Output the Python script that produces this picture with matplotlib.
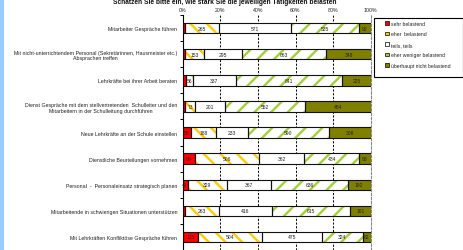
import matplotlib
matplotlib.use('Agg')
import matplotlib.pyplot as plt
import numpy as np
from matplotlib.patches import Rectangle, Patch

plt.rcParams['font.family'] = ['Liberation Sans', 'DejaVu Sans']
plt.rcParams['hatch.linewidth'] = 1.7

title = "Schätzen Sie bitte ein, wie stark Sie die jeweiligen Tätigkeiten belasten"
categories = [
    "Mitarbeiter Gespräche führen",
    "Mit nicht-unterrichtendem Personal (Sekretärinnen, Hausmeister etc.)\nAbsprachen treffen",
    "Lehrkräfte bei ihrer Arbeit beraten",
    "Dienst Gespräche mit dem stellvertretenden  Schulleiter und den\nMitarbeitern in der Schulleitung durchführen",
    "Neue Lehrkräfte an der Schule einstellen",
    "Dienstliche Beurteilungen vornehmen",
    "Personal  -  Personaleinsatz strategisch planen",
    "Mitarbeitende in schwierigen Situationen unterstützen",
    "Mit Lehrkräften Konfliktöse Gespräche führen",
]
sehr = [20, 18, 25, 15, 58, 99, 41, 21, 125]
eher = [265, 153, 56, 73, 188, 506, 329, 263, 504]
teils = [571, 295, 337, 201, 233, 362, 367, 416, 475]
weniger = [535, 663, 841, 552, 590, 434, 636, 615, 324]
nicht = [92, 348, 225, 454, 308, 93, 192, 161, 62]
series_names = ['sehr belastend', 'eher  belastend', 'teils, teils',
                'eher weniger belastend', 'überhaupt nicht belastend']
xticks = [0, 20, 40, 60, 80, 100]
xticklabels = ['0%', '20%', '40%', '60%', '80%', '100%']

faces = ['#FF0000', 'white', 'white', 'white', '#808000']
hatches = [None, '\\\\', None, '//', None]
hatchcols = ['#FF0000', '#FFCC00', 'white', '#A3D133', '#808000']
legcols = ['#FF0000', '#FFCC00', 'white', '#A3D133', '#808000']

W, H = 463, 251
fig = plt.figure(figsize=(W / 100, H / 100), dpi=100)
fig.patches.append(Rectangle((0, 0), 4 / W, 1, transform=fig.transFigure,
                             facecolor='#99CCFF', edgecolor='none', zorder=0))

ax = fig.add_axes([182.7 / W, 0, 188 / W, 1 - 16 / H])
n = len(categories)
y = np.arange(n)
data = np.array([sehr, eher, teils, weniger, nicht], dtype=float)
pct = data / data.sum(axis=0) * 100
left = np.zeros(n)
for i in range(5):
    ax.barh(y, pct[i], left=left, height=0.4, color=faces[i], hatch=hatches[i],
            edgecolor=hatchcols[i], linewidth=0, zorder=2)
    ax.barh(y, pct[i], left=left, height=0.4, fill=False, edgecolor='#111111',
            linewidth=0.8, zorder=3)
    for j in range(n):
        v = int(data[i, j])
        if i == 0 and v < 30:
            continue
        ax.text(left[j] + pct[i, j] / 2, y[j], str(v), ha='center', va='center',
                fontsize=3.6, color='#222222', zorder=4)
    left += pct[i]

ax.set_xlim(0, 100)
ax.set_ylim(8.435, -0.5)
for g in xticks[1:-1]:
    ax.axvline(g, color='black', lw=0.7, ls=(0, (2.2, 1.6)), zorder=1)
ax.xaxis.tick_top()
ax.set_xticks(xticks)
ax.set_xticklabels(xticklabels, fontsize=3.8, color='#222222')
ax.tick_params(axis='x', length=0, pad=2.5)

ax.set_yticks(y)
ax.set_yticklabels(categories, fontsize=3.75, color='#222222', multialignment='center')
ax.tick_params(axis='y', which='major', length=0, pad=4)
ax.set_yticks(np.arange(n + 1) - 0.5, minor=True)
ax.tick_params(axis='y', which='minor', length=2.2, width=0.7, direction='out')

ax.spines['top'].set_visible(False)
ax.spines['bottom'].set_visible(False)
ax.spines['left'].set_linewidth(0.8)
ax.spines['right'].set_color('#888888')
ax.spines['right'].set_linestyle((0, (2.2, 1.6)))
ax.spines['right'].set_linewidth(0.8)

fig.text(225 / W, 1 - 2 / H, title, ha='center', va='center', fontsize=4.8,
         fontweight='bold', color='#111111')

fig.patches.append(Rectangle((374 / W, 1 - 78 / H), (462.6 - 374) / W, 59 / H,
                             transform=fig.transFigure, facecolor='white',
                             edgecolor='black', lw=0.8, zorder=1))
handles = [Patch(facecolor=legcols[i], edgecolor='black', lw=0.5) for i in range(5)]
leg = fig.legend(handles, series_names, loc='upper left',
                 bbox_to_anchor=(385 / W, 1 - 22 / H), frameon=False, fontsize=3.7,
                 handlelength=0.75, handleheight=0.75, handletextpad=0.35,
                 labelspacing=1.05, borderpad=0, borderaxespad=0)
leg.set_zorder(2)
for t in leg.get_texts():
    t.set_color('#222222')

fig.savefig('out.png', dpi=100)
